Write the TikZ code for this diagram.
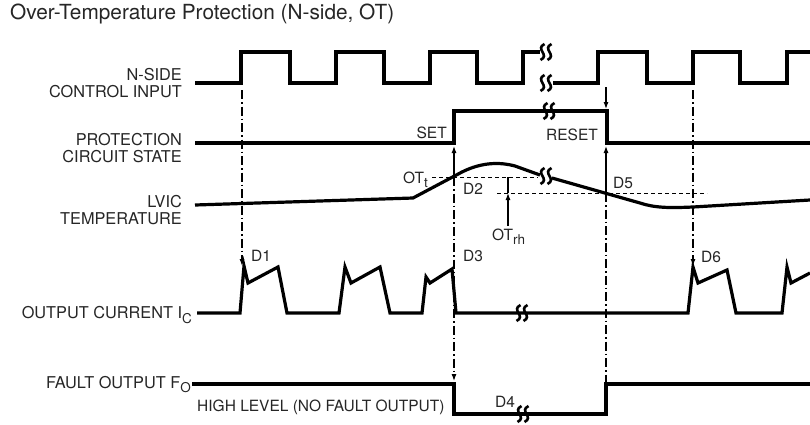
\documentclass[tikz,border=0pt]{standalone}
\usepackage{fontspec}
\setmainfont{TeX Gyre Heros}
\usetikzlibrary{arrows.meta}
\newcommand{\lsub}[1]{\raisebox{-4.5pt}{\fontsize{13.5}{13.5}\selectfont #1}}

\begin{document}
\begin{tikzpicture}[x=1pt,y=-1pt,
  wave/.style={line width=3.2pt,line join=miter},
  lbl/.style={font=\fontsize{15.5}{17}\selectfont,inner sep=0pt,text=black!85},
  side/.style={lbl,font=\fontsize{16.3}{17}\selectfont},
  guide/.style={line width=1.1pt,dash pattern=on 9pt off 3pt on 1.5pt off 3pt},
  thr/.style={line width=1pt,dash pattern=on 4pt off 3pt},
  tip/.style={-{Latex[length=7pt,width=5pt]}},
  brk/.pic={\foreach \dx in {-3.5,3.5}{\draw[line width=2.6pt,xshift=\dx pt] (2,-8) .. controls (-8,-3) and (8,3) .. (-2,8);}}]
\fill[white] (0,0) rectangle (810,424);
\useasboundingbox (0,0) rectangle (810,424);
\node[lbl,font=\fontsize{20.8}{22}\selectfont,anchor=west] (title) at (10,14) {Over-Temperature Protection (N-side, OT)};

\node[side,align=right,anchor=east] (lblci) at (182,83.5) {N-SIDE\ \\CONTROL INPUT};
\node[side,align=right,anchor=east] (lblps) at (182,148) {PROTECTION\\CIRCUIT STATE};
\node[side,align=right,anchor=east] (lblt) at (182,210) {LVIC\\TEMPERATURE};
\node[side,anchor=base east] (lbloc) at (192,318.5) {OUTPUT CURRENT I\lsub{C}};
\node[side,anchor=base east] (lblfo) at (191,388) {FAULT OUTPUT F\lsub{O}};

\draw[wave] (195,83) -- (241,83) -- (241,52) -- (290,52) -- (290,83) -- (336,83) -- (336,52) -- (384,52)
  -- (384,83) -- (430,83) -- (430,52) -- (477,52) -- (477,83) -- (523,83) -- (523,52) -- (540,52);
\draw[wave] (553,83) -- (598,83) -- (598,52) -- (647,52) -- (647,83) -- (693,83) -- (693,52) -- (740,52)
  -- (740,83) -- (787,83) -- (787,52) -- (810,52);
\draw[wave] (195,143) -- (454,143) -- (454,111) -- (607,111) -- (607,143) -- (810,143);
\draw[wave] (195,205) -- (413,198) -- (462,172) .. controls (482,162) and (500,162) .. (515,166) -- (540,175);
\draw[wave] (552,178) -- (640,203) .. controls (655,208) and (670,208) .. (693,207) -- (810,200);
\draw[wave] (197,313) -- (240,313) -- (244,266) -- (248,283) -- (278,267) -- (287,313) -- (339,313) -- (345,267)
  -- (351,283) -- (380,267) -- (390,313) -- (422,313) -- (426,277) -- (430,283) -- (452,269) -- (456,313)
  -- (688,313) -- (693,267) -- (698,283) -- (727,270) -- (736,313) -- (782,313) -- (787,267) -- (791,283) -- (810,273);
\draw[wave] (192,384) -- (454,384) -- (454,414) -- (606,414) -- (606,384) -- (810,384);
\foreach \p in {(546,52),(546,83),(549,111),(546,176),(522,313),(523,414)}
  \pic at \p {brk};

\draw[thr] (432,177) -- (538,177);
\draw[thr] (497,193) -- (707,193);
\node[lbl,anchor=base east] (ott) at (428,183) {OT\lsub{t}};
\draw[line width=1.1pt] (508,177) -- (508,193);
\draw[tip,line width=1.1pt] (508,226) -- (508,193);
\node[lbl,anchor=base west] (otrh) at (492,240) {OT\lsub{rh}};

\coordinate (ci1) at (242,90);
\coordinate (d1tip) at (242,266);
\coordinate (otcross) at (454,177);
\coordinate (setlow) at (454,146);
\coordinate (fodown) at (454,381);
\coordinate (cir) at (606,87);
\coordinate (resethi) at (606,109);
\coordinate (rhcross) at (606,193);
\coordinate (resetlow) at (606,146);
\coordinate (foup) at (606,384);
\coordinate (ci6) at (693,90);
\coordinate (d6tip) at (693,266);
\draw[guide,tip] (ci1) -- (d1tip);
\draw[tip,line width=1.1pt] (otcross) -- (setlow);
\draw[guide,tip] (otcross) -- (fodown);
\draw[tip,line width=1.1pt] (cir) -- (resethi);
\draw[tip,line width=1.1pt] (rhcross) -- (resetlow);
\draw[guide] (rhcross) -- (foup);
\draw[guide,tip] (ci6) -- (d6tip);

\node[lbl,anchor=base east] (set) at (447,138.5) {SET};
\node[lbl,anchor=base east] (reset) at (598,140.5) {RESET};
\node[lbl,anchor=base west] (d1) at (251,261.5) {D1};
\node[lbl,anchor=base west] (d2) at (463,194.5) {D2};
\node[lbl,anchor=base west] (d3) at (463,261.5) {D3};
\node[lbl,anchor=base west] (d4) at (495,407.5) {D4};
\node[lbl,anchor=base west] (d5) at (613,188.5) {D5};
\node[lbl,anchor=base west] (d6) at (701,262.5) {D6};
\node[lbl,anchor=base west] (hl) at (197,411.5) {HIGH LEVEL (NO FAULT OUTPUT)};
\end{tikzpicture}
\end{document}
